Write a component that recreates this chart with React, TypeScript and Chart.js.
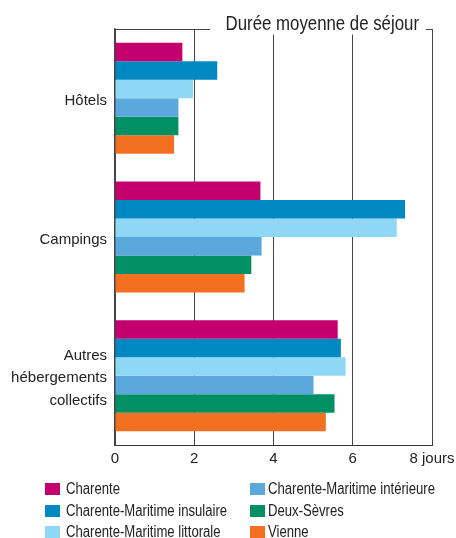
import React, { useEffect, useRef } from "react";
import { Chart, registerables } from "chart.js";

Chart.register(...registerables);

const chartTitle = "Durée moyenne de séjour";
const categories: (string | string[])[] = ["Hôtels", "Campings", ["Autres", "hébergements", "collectifs"]];
const seriesNames = [
  "Charente",
  "Charente-Maritime insulaire",
  "Charente-Maritime littorale",
  "Charente-Maritime intérieure",
  "Deux-Sèvres",
  "Vienne",
];
const seriesColors = ["#C4006E", "#0088C2", "#8ED8F6", "#5BA8DC", "#009063", "#F37021"];
const charente = [1.7, 3.67, 5.62];
const cmInsulaire = [2.58, 7.32, 5.7];
const cmLittorale = [1.97, 7.11, 5.82];
const cmInterieure = [1.6, 3.7, 5.01];
const deuxSevres = [1.6, 3.44, 5.54];
const vienne = [1.49, 3.27, 5.32];
const seriesValues = [charente, cmInsulaire, cmLittorale, cmInterieure, deuxSevres, vienne];
const xTicks = [0, 2, 4, 6, 8];
const xUnit = "jours";

const FONT = '"Liberation Sans", Arial, Helvetica, sans-serif';
const TEXT = "#222";
const NARROW = 0.82;

const titlePlugin = {
  id: "frameTitle",
  afterDraw(chart: any) {
    const { ctx, chartArea } = chart;
    const { left, right, top } = chartArea;
    ctx.save();
    ctx.strokeStyle = "#444";
    ctx.lineWidth = 1;
    const y = Math.round(top) + 0.5;
    ctx.beginPath();
    ctx.moveTo(left, y);
    ctx.lineTo(right + 0.5, y);
    ctx.stroke();
    ctx.fillStyle = "#fff";
    ctx.fillRect(210, 0, 216, top + 5.5);
    ctx.fillStyle = TEXT;
    ctx.font = "20.5px " + FONT;
    ctx.textAlign = "right";
    ctx.textBaseline = "alphabetic";
    const xr = right - 13;
    ctx.translate(xr, top + 0.5);
    ctx.scale(NARROW, 1);
    ctx.fillText(chartTitle, 0, 0);
    ctx.restore();
  },
};

export default function App() {
  const ref = useRef<HTMLCanvasElement>(null);
  useEffect(() => {
    document.body.style.margin = "0";
    if (!ref.current) return;
    const chart = new Chart(ref.current, {
      type: "bar",
      data: {
        labels: categories as any,
        datasets: seriesNames.map((name, i) => ({
          label: name,
          data: seriesValues[i],
          backgroundColor: seriesColors[i],
          borderWidth: 0,
          categoryPercentage: 0.8,
          barPercentage: 1.0,
        })),
      },
      options: {
        indexAxis: "y",
        animation: false,
        responsive: false,
        maintainAspectRatio: false,
        layout: { autoPadding: false, padding: { top: 29, right: 24, bottom: 0, left: 0 } },
        plugins: {
          legend: { display: false },
          title: { display: false },
          tooltip: { enabled: false },
        },
        scales: {
          x: {
            min: 0,
            max: 8,
            afterBuildTicks: (s: any) => {
              s.ticks = xTicks.map((v) => ({ value: v }));
            },
            afterFit: (s: any) => {
              s.height = 35;
              s.paddingLeft = 0;
              s.paddingRight = 0;
            },
            grid: { color: "#444", lineWidth: 1, drawTicks: false },
            border: { color: "#333", width: 1 },
            ticks: {
              padding: 5,
              color: TEXT,
              font: { family: FONT, size: 15 },
              maxRotation: 0,
              callback: (v: any) => (Number(v) === 8 ? `${v} ${xUnit}` : `${v}`),
            },
          },
          y: {
            afterFit: (s: any) => {
              s.width = 115;
              s.paddingTop = 0;
              s.paddingBottom = 0;
            },
            grid: { display: false, drawTicks: false },
            border: { color: "#444", width: 1.5 },
            ticks: {
              padding: 8,
              labelOffset: 2.5,
              color: TEXT,
              font: { family: FONT, size: 15, lineHeight: 1.5 },
            },
          },
        },
      },
      plugins: [titlePlugin],
    });
    return () => chart.destroy();
  }, []);

  const legendCols = [
    { box: 45, text: 66 },
    { box: 250, text: 268 },
  ];
  const legendRows = [483, 505, 526];

  return (
    <div style={{ position: "relative", width: 456, height: 538, background: "#fff", overflow: "hidden" }}>
      <canvas ref={ref} width={456} height={480} style={{ position: "absolute", left: 0, top: 0, width: 456, height: 480 }} />
      {seriesNames.map((name, i) => {
        const col = legendCols[Math.floor(i / 3)];
        const top = legendRows[i % 3];
        return (
          <React.Fragment key={name}>
            <div style={{ position: "absolute", left: col.box, top, width: 15, height: 12, background: seriesColors[i] }} />
            <div
              style={{
                position: "absolute",
                left: col.text,
                top: top - 4,
                fontFamily: FONT,
                fontSize: 16,
                lineHeight: "20px",
                color: TEXT,
                whiteSpace: "nowrap",
                transform: `scaleX(${NARROW})`,
                transformOrigin: "0 0",
              }}
            >
              {name}
            </div>
          </React.Fragment>
        );
      })}
    </div>
  );
}
